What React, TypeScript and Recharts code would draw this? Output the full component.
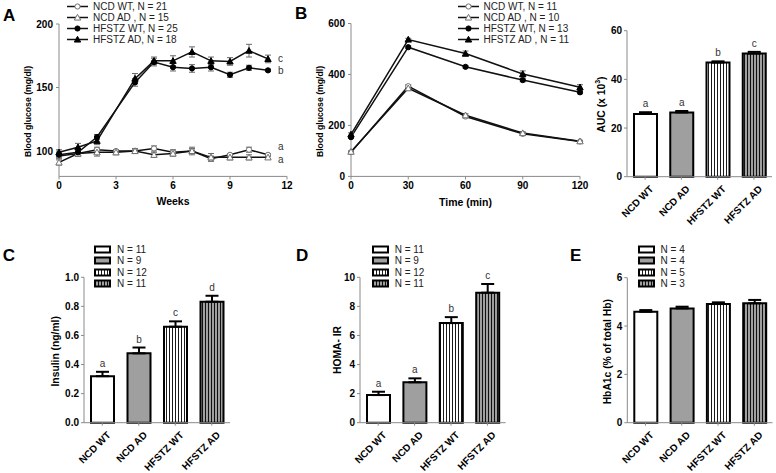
import React from 'react';
import {
  LineChart,
  Line,
  BarChart,
  Bar,
  Cell,
  XAxis,
  YAxis,
  ErrorBar,
  Legend,
  LabelList,
} from 'recharts';

const FONT = '"Liberation Sans", Arial, Helvetica, sans-serif';
const BAR_GRAY = '#9f9f9f';
const AXIS_GRAY = '#8a8a8a';

// ---- A: weekly blood glucose ----
const weeks = [0, 1, 2, 3, 4, 5, 6, 7, 8, 9, 10, 11];
const ncdWtWeekly = [96, 98, 101, 100, 100, 102, 99, 100, 94, 97, 101, 97];
const ncdWtWeeklyErr = [2, 2, 2, 1, 1, 2, 2, 2, 2, 1, 2, 1];
const ncdAdWeekly = [91, 98, 99, 99, 100, 97, 98, 100, 95, 95, 95, 95];
const ncdAdWeeklyErr = [2, 2, 3, 2, 2, 2, 2, 3, 3, 2, 2, 1];
const hfWtWeekly = [97, 99, 111, null, 154, 170, 166, 165, 166, 160, 165.5, 163.5];
const hfWtWeeklyErr = [2, 2, 2, null, 3, 3, 3, 3, 3, 2, 2, 1];
const hfAdWeekly = [99, 103, 108, null, 157, 171, 171, 178, 171, 170.5, 179, 172.5];
const hfAdWeeklyErr = [2, 3, 3, null, 4, 3, 4, 4, 3, 3, 5, 3];
const weeklyLegend = ['NCD WT, N = 21', 'NCD AD , N = 15', 'HFSTZ WT, N = 25', 'HFSTZ AD, N = 18'];
const weeklyLetters = ['a', 'a', 'b', 'c'];

// ---- B: glucose tolerance test ----
const gttTimes = [0, 30, 60, 90, 120];
const ncdWtGtt = [95, 354, 235, 167, 137];
const ncdWtGttErr = [3, 6, 5, 4, 3];
const ncdAdGtt = [97, 346, 240, 170, 138];
const ncdAdGttErr = [3, 8, 6, 5, 3];
const hfWtGtt = [154, 507, 430, 378, 330];
const hfWtGttErr = [5, 5, 5, 7, 6];
const hfAdGtt = [165, 537, 482, 402, 350];
const hfAdGttErr = [6, 5, 10, 12, 10];
const gttLegend = ['NCD WT, N = 11', 'NCD AD , N = 10', 'HFSTZ WT, N = 13', 'HFSTZ AD , N = 11'];

// ---- bar panels ----
const barGroups = ['NCD WT', 'NCD AD', 'HFSTZ WT', 'HFSTZ AD'];
const aucMean = [25.8, 26.4, 46.9, 50.6];
const aucErr = [0.7, 0.6, 0.5, 0.7];
const aucLetters = ['a', 'a', 'b', 'c'];
const insulinMean = [0.32, 0.477, 0.66, 0.832];
const insulinErr = [0.03, 0.04, 0.037, 0.041];
const insulinLetters = ['a', 'b', 'c', 'd'];
const insulinN = [11, 9, 12, 11];
const homaMean = [1.9, 2.78, 6.85, 8.94];
const homaErr = [0.23, 0.27, 0.41, 0.6];
const homaLetters = ['a', 'a', 'b', 'c'];
const homaN = [11, 9, 12, 11];
const hba1cMean = [4.59, 4.73, 4.91, 4.94];
const hba1cErr = [0.07, 0.07, 0.07, 0.14];
const hba1cN = [4, 4, 5, 3];

const seriesKeys = ['ncdWt', 'ncdAd', 'hfWt', 'hfAd'];
const seriesShape = ['circle', 'tri', 'circle', 'tri'];
const seriesFilled = [false, false, true, true];

const weeklyData = weeks.map((week, i) => ({
  x: week,
  ncdWt: ncdWtWeekly[i],
  ncdWtErr: ncdWtWeeklyErr[i],
  ncdAd: ncdAdWeekly[i],
  ncdAdErr: ncdAdWeeklyErr[i],
  hfWt: hfWtWeekly[i],
  hfWtErr: hfWtWeeklyErr[i],
  hfAd: hfAdWeekly[i],
  hfAdErr: hfAdWeeklyErr[i],
}));

const gttData = gttTimes.map((t, i) => ({
  x: t,
  ncdWt: ncdWtGtt[i],
  ncdWtErr: ncdWtGttErr[i],
  ncdAd: ncdAdGtt[i],
  ncdAdErr: ncdAdGttErr[i],
  hfWt: hfWtGtt[i],
  hfWtErr: hfWtGttErr[i],
  hfAd: hfAdGtt[i],
  hfAdErr: hfAdGttErr[i],
}));

const tickStyle = { fill: '#000', fontSize: 10, fontWeight: 700, fontFamily: FONT };

function Marker({ cx, cy, shape, filled }: any) {
  if (cx == null || cy == null || isNaN(cy)) return <g />;
  const stroke = filled ? '#000' : '#707070';
  const fill = filled ? '#000' : '#fff';
  if (shape === 'tri') {
    const s = 3.2;
    return (
      <polygon
        points={`${cx},${cy - s} ${cx - s},${cy + s * 0.8} ${cx + s},${cy + s * 0.8}`}
        fill={fill}
        stroke={stroke}
        strokeWidth={1}
      />
    );
  }
  return <circle cx={cx} cy={cy} r={2.6} fill={fill} stroke={stroke} strokeWidth={1} />;
}

// axis title drawn at fixed spot inside the chart svg
function AxisTitle({ tx, ty, text, rotate = 0, size = 10 }: any) {
  return (
    <text
      x={tx}
      y={ty}
      transform={rotate ? `rotate(${rotate} ${tx} ${ty})` : undefined}
      textAnchor="middle"
      dominantBaseline="central"
      fontFamily={FONT}
      fontSize={size}
      fontWeight={700}
      fill="#000"
    >
      {text}
    </text>
  );
}

function SlantTick({ x, y, payload }: any) {
  return (
    <g transform={`translate(${x + 9},${y + 8})`}>
      <text
        x={0}
        y={0}
        textAnchor="end"
        transform="rotate(-45)"
        fontFamily={FONT}
        fontSize={10}
        fontWeight={700}
        fill="#000"
      >
        {payload.value}
      </text>
    </g>
  );
}

function LinePanel({
  data, left, top, width, height, yWidth, marginTop, marginRight,
  xDomain, xTicks, yDomain, yTicks, legend, legendLeft, letters,
  yTitle, xTitle,
}: any) {
  return (
    <div style={{ position: 'absolute', left, top }}>
      <LineChart
        width={width}
        height={height}
        data={data}
        margin={{ top: marginTop, right: marginRight, left: 0, bottom: 23.6 }}
      >
        <XAxis
          type="number"
          dataKey="x"
          domain={xDomain}
          ticks={xTicks}
          interval={0}
          height={30}
          tickSize={3}
          tickMargin={2}
          tick={tickStyle}
          axisLine={{ stroke: AXIS_GRAY }}
          tickLine={{ stroke: AXIS_GRAY }}
          label={<AxisTitle tx={xTitle.x} ty={xTitle.y} text={xTitle.text} size={10.5} />}
        />
        <YAxis
          type="number"
          domain={yDomain}
          ticks={yTicks}
          interval={0}
          width={yWidth}
          tickSize={3}
          tickMargin={3}
          tick={tickStyle}
          axisLine={{ stroke: AXIS_GRAY }}
          tickLine={{ stroke: AXIS_GRAY }}
          allowDataOverflow
          label={<AxisTitle tx={yTitle.x} ty={yTitle.y} text={yTitle.text} rotate={-90} size={8.7} />}
        />
        <Legend
          layout="vertical"
          align="center"
          verticalAlign="middle"
          wrapperStyle={{ left: legendLeft, top: 0.5 }}
          content={() => (
            <div style={{ fontFamily: FONT, fontSize: 10, color: '#222', lineHeight: '11px' }}>
              {seriesKeys.map((k, i) => (
                <div key={k} style={{ display: 'flex', alignItems: 'center', height: 11 }}>
                  <svg width={21} height={11} style={{ display: 'block' }}>
                    <line x1={0} y1={5.5} x2={21} y2={5.5} stroke="#111" strokeWidth={1.5} />
                    <Marker cx={10.5} cy={5.5} shape={seriesShape[i]} filled={seriesFilled[i]} />
                  </svg>
                  <span style={{ marginLeft: 5, whiteSpace: 'nowrap' }}>{legend[i]}</span>
                </div>
              ))}
            </div>
          )}
        />
        {seriesKeys.map((k, si) => (
          <Line
            key={k}
            type="linear"
            dataKey={k}
            stroke="#111"
            strokeWidth={1.5}
            connectNulls
            isAnimationActive={false}
            dot={(p: any) => (
              <Marker
                key={`${k}-d-${p.index}`}
                cx={p.cx}
                cy={p.value == null ? null : p.cy}
                shape={seriesShape[si]}
                filled={seriesFilled[si]}
              />
            )}
            activeDot={false}
          >
            <ErrorBar dataKey={`${k}Err`} width={3} strokeWidth={1} stroke="#6a6a6a" direction="y" />
            {letters && (
              <LabelList
                dataKey={k}
                content={(p: any) => {
                  if (p.index !== data.length - 1 || p.value == null) return null;
                  const dy = [-8, 2, 0, 0][si];
                  return (
                    <text
                      x={p.x + 10}
                      y={p.y + dy}
                      dominantBaseline="central"
                      fontFamily={FONT}
                      fontSize={10}
                      fill="#333"
                    >
                      {letters[si]}
                    </text>
                  );
                }}
              />
            )}
          </Line>
        ))}
      </LineChart>
    </div>
  );
}

function BarPanel({
  id, left, top, width, height, yWidth, marginTop, marginRight, xHeight,
  means, errs, letters, ns, yMax, yTicks, fmt, yTitle, legendLeft,
}: any) {
  const data = barGroups.map((g, i) => ({ group: g, mean: means[i], errRange: [0, errs[i]] }));
  const fills = ['#fff', BAR_GRAY, `url(#${id}-sw)`, `url(#${id}-sg)`];
  return (
    <div style={{ position: 'absolute', left, top }}>
      <BarChart
        width={width}
        height={height}
        data={data}
        margin={{ top: marginTop, right: marginRight, left: 0, bottom: 0 }}
        barSize={23}
      >
        <defs>
          <pattern id={`${id}-sw`} width={3} height={4} patternUnits="userSpaceOnUse">
            <rect width={3} height={4} fill="#fff" />
            <line x1={1.5} y1={0} x2={1.5} y2={4} stroke="#000" strokeWidth={0.9} />
          </pattern>
          <pattern id={`${id}-sg`} width={3} height={4} patternUnits="userSpaceOnUse">
            <rect width={3} height={4} fill={BAR_GRAY} />
            <line x1={1.5} y1={0} x2={1.5} y2={4} stroke="#000" strokeWidth={0.9} />
          </pattern>
        </defs>
        <XAxis
          dataKey="group"
          interval={0}
          height={xHeight}
          tickSize={3}
          tickMargin={2}
          tick={<SlantTick />}
          axisLine={{ stroke: AXIS_GRAY }}
          tickLine={{ stroke: AXIS_GRAY }}
        />
        <YAxis
          type="number"
          domain={[0, yMax]}
          ticks={yTicks}
          interval={0}
          width={yWidth}
          tickSize={3}
          tickMargin={2}
          tick={tickStyle}
          tickFormatter={fmt}
          axisLine={{ stroke: AXIS_GRAY }}
          tickLine={{ stroke: AXIS_GRAY }}
          label={<AxisTitle tx={yTitle.x} ty={yTitle.y} text={yTitle.text} rotate={-90} size={10.3} />}
        />
        {ns && (
          <Legend
            layout="vertical"
            align="center"
            verticalAlign="middle"
            wrapperStyle={{ left: legendLeft, top: 3.5 }}
            content={() => (
              <div style={{ fontFamily: FONT, fontSize: 10, color: '#222', lineHeight: '11.5px' }}>
                {ns.map((n: number, i: number) => (
                  <div key={i} style={{ display: 'flex', alignItems: 'center', height: 11.5 }}>
                    <svg width={17} height={9} style={{ display: 'block' }}>
                      <rect x={1} y={1.5} width={15} height={6} fill={fills[i]} stroke="#000" strokeWidth={2} />
                    </svg>
                    <span style={{ marginLeft: 6, whiteSpace: 'nowrap' }}>N = {n}</span>
                  </div>
                ))}
              </div>
            )}
          />
        )}
        <Bar dataKey="mean" stroke="#000" strokeWidth={2} isAnimationActive={false}>
          {data.map((d, i) => (
            <Cell key={d.group} fill={fills[i]} />
          ))}
          <ErrorBar dataKey="errRange" width={6.5} strokeWidth={2} stroke="#000" direction="y" />
          {letters && (
            <LabelList
              dataKey="mean"
              content={(p: any) => {
                const i = p.index;
                const errPx = (p.height * errs[i]) / means[i];
                return (
                  <text
                    x={p.x + p.width / 2}
                    y={p.y - errPx - 5}
                    textAnchor="middle"
                    fontFamily={FONT}
                    fontSize={10}
                    fill="#333"
                  >
                    {letters[i]}
                  </text>
                );
              }}
            />
          )}
        </Bar>
      </BarChart>
    </div>
  );
}

function PanelLetter({ left, top, children }: any) {
  return (
    <span
      style={{
        position: 'absolute',
        left,
        top,
        fontFamily: FONT,
        fontSize: 17,
        lineHeight: '17px',
        fontWeight: 700,
        color: '#000',
      }}
    >
      {children}
    </span>
  );
}

export default function App() {
  return (
    <div
      style={{
        position: 'absolute',
        left: 0,
        top: 0,
        width: 776,
        height: 473,
        background: '#fff',
        overflow: 'hidden',
      }}
    >
      <LinePanel
        data={weeklyData}
        left={0}
        top={0}
        width={300}
        height={230}
        yWidth={59}
        marginTop={24}
        marginRight={13}
        xDomain={[0, 12]}
        xTicks={[0, 3, 6, 9, 12]}
        yDomain={[80, 200]}
        yTicks={[100, 150, 200]}
        legend={weeklyLegend}
        legendLeft={67}
        letters={weeklyLetters}
        yTitle={{ x: 27.5, y: 111.5, text: 'Blood glucose (mg/dl)' }}
        xTitle={{ x: 173, y: 201, text: 'Weeks' }}
      />
      <LinePanel
        data={gttData}
        left={290}
        top={0}
        width={300}
        height={230}
        yWidth={61}
        marginTop={23.5}
        marginRight={10}
        xDomain={[0, 120]}
        xTicks={[0, 30, 60, 90, 120]}
        yDomain={[0, 600]}
        yTicks={[0, 200, 400, 600]}
        legend={gttLegend}
        legendLeft={167.5}
        letters={null}
        yTitle={{ x: 30, y: 111.5, text: 'Blood glucose (mg/dl)' }}
        xTitle={{ x: 175.5, y: 202, text: 'Time (min)' }}
      />
      <BarPanel
        id="auc"
        left={560}
        top={0}
        width={216}
        height={240}
        yWidth={67}
        marginTop={30.7}
        marginRight={4}
        xHeight={63.3}
        means={aucMean}
        errs={aucErr}
        letters={aucLetters}
        ns={null}
        yMax={60}
        yTicks={[0, 20, 40, 60]}
        fmt={(v: number) => `${v}`}
        yTitle={{
          x: 41,
          y: 104.5,
          text: (
            <>
              AUC (x 10<tspan dy={-4} fontSize={7}>3</tspan>
              <tspan dy={4}>)</tspan>
            </>
          ),
        }}
        legendLeft={0}
      />
      <BarPanel
        id="ins"
        left={0}
        top={240}
        width={240}
        height={233}
        yWidth={84}
        marginTop={37.3}
        marginRight={10}
        xHeight={50.3}
        means={insulinMean}
        errs={insulinErr}
        letters={insulinLetters}
        ns={insulinN}
        yMax={1}
        yTicks={[0, 0.2, 0.4, 0.6, 0.8, 1]}
        fmt={(v: number) => v.toFixed(1)}
        yTitle={{ x: 56, y: 111.3, text: 'Insulin (ng/ml)' }}
        legendLeft={94}
      />
      <BarPanel
        id="homa"
        left={280}
        top={240}
        width={236}
        height={233}
        yWidth={80}
        marginTop={37.3}
        marginRight={10.4}
        xHeight={50.3}
        means={homaMean}
        errs={homaErr}
        letters={homaLetters}
        ns={homaN}
        yMax={10}
        yTicks={[0, 2, 4, 6, 8, 10]}
        fmt={(v: number) => `${v}`}
        yTitle={{ x: 57, y: 110, text: 'HOMA- IR' }}
        legendLeft={91.7}
      />
      <BarPanel
        id="hba"
        left={560}
        top={240}
        width={216}
        height={233}
        yWidth={67.3}
        marginTop={37.7}
        marginRight={3.5}
        xHeight={50.3}
        means={hba1cMean}
        errs={hba1cErr}
        letters={null}
        ns={hba1cN}
        yMax={6}
        yTicks={[0, 2, 4, 6]}
        fmt={(v: number) => `${v}`}
        yTitle={{ x: 47.5, y: 111.7, text: 'HbA1c (% of total Hb)' }}
        legendLeft={77.5}
      />
      <PanelLetter left={3} top={7.3}>A</PanelLetter>
      <PanelLetter left={295} top={5.1}>B</PanelLetter>
      <PanelLetter left={2.7} top={247.3}>C</PanelLetter>
      <PanelLetter left={296} top={247.3}>D</PanelLetter>
      <PanelLetter left={570} top={247.3}>E</PanelLetter>
    </div>
  );
}
